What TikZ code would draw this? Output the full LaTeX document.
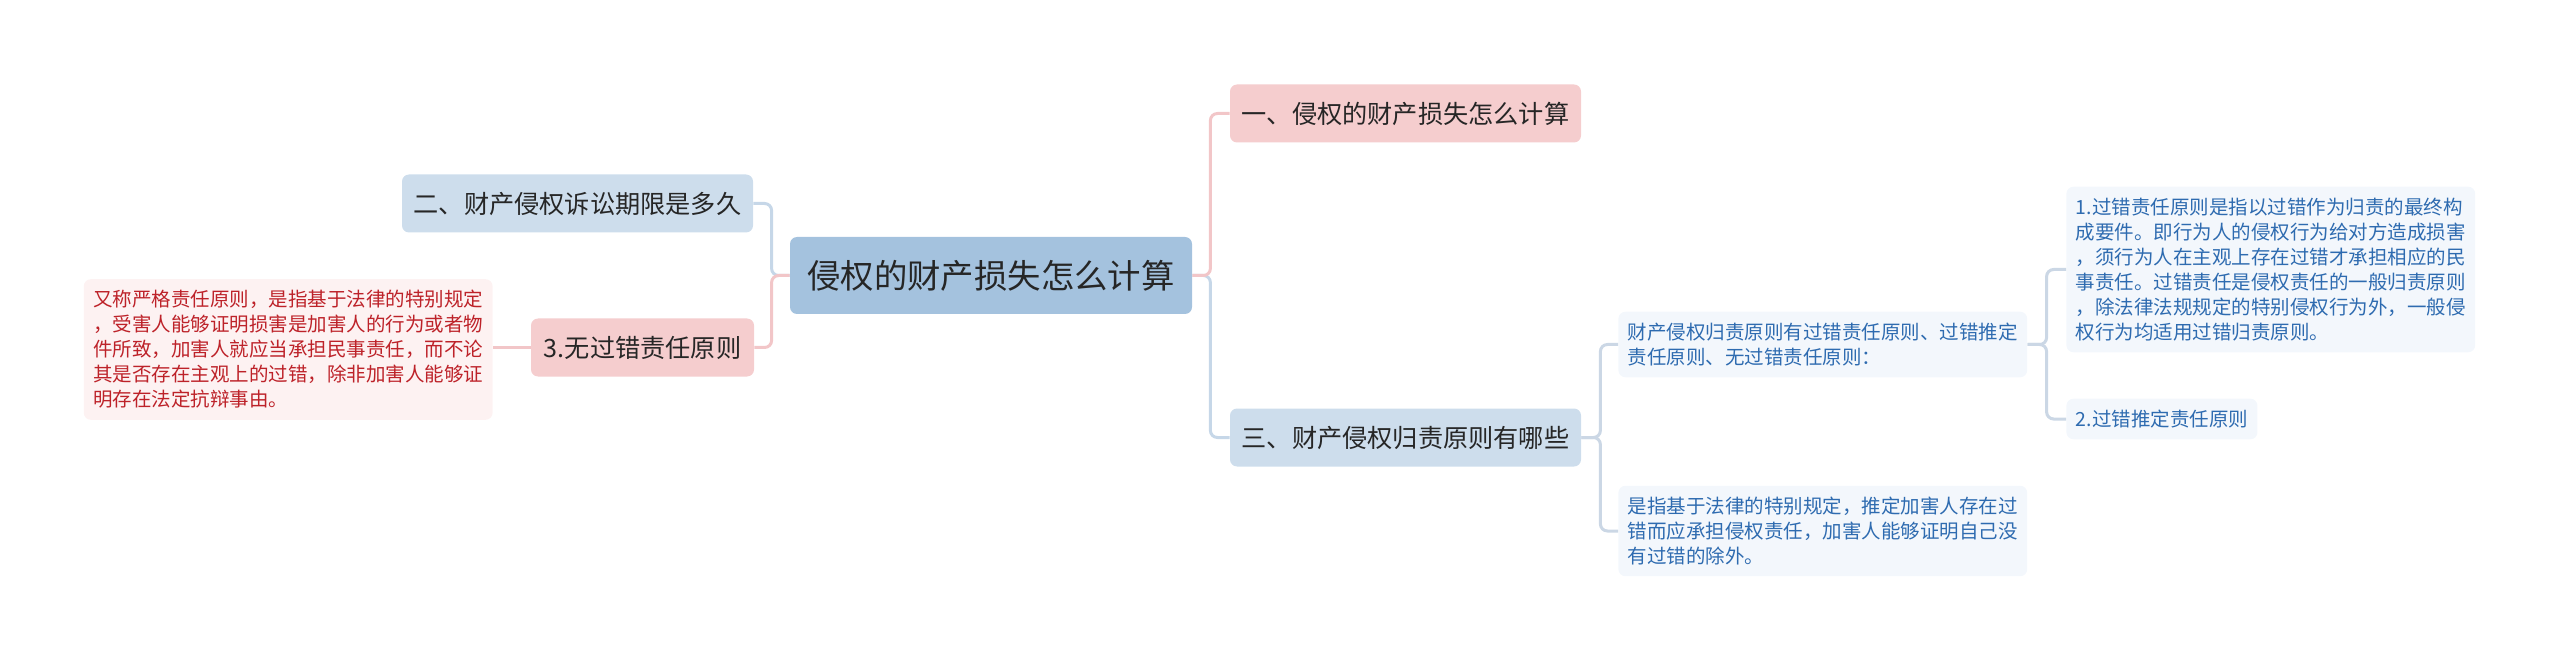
\documentclass[tikz,border=0pt]{standalone}
\usepackage{fontspec}
\newfontfamily\cjk{Noto Sans CJK SC}
\usepackage{xcolor}
\usepackage{tikz}
\usetikzlibrary{positioning,calc}

\definecolor{rootfill}{HTML}{A4C2DE}
\definecolor{pinkfill}{HTML}{F5CDCE}
\definecolor{bluefill}{HTML}{CDDDEC}
\definecolor{leafpink}{HTML}{FDF2F2}
\definecolor{leafblue}{HTML}{F3F7FC}
\definecolor{redtext}{HTML}{BD2229}
\definecolor{bluetext}{HTML}{2E6BB0}
\definecolor{pinkline}{HTML}{F2C6C8}
\definecolor{blueline}{HTML}{C6D7E8}
\definecolor{greyline}{HTML}{CBD7E5}

\begin{document}
\begin{tikzpicture}[x=0.5pt, y=-0.5pt,
  rootbox/.style={fill=rootfill, rounded corners=3.5pt, text=black!85,
    minimum width=201pt, minimum height=38.5pt, inner sep=0pt,
    font=\cjk\fontsize{16.7}{20}\selectfont},
  topicbox/.style={rounded corners=3.5pt, text=black!85,
    minimum width=175.5pt, minimum height=29pt, inner sep=0pt,
    font=\cjk\fontsize{12.6}{15}\selectfont},
  leafbox/.style={rounded corners=3.5pt, align=left, inner xsep=4.7pt, inner ysep=5.6pt,
    font=\cjk\fontsize{9.75}{12.5}\selectfont},
  link/.style={line width=1.5pt, rounded corners=3.5pt}]
  \useasboundingbox (0,0) rectangle (2560,663);

  % central topic and main branches
  \node[rootbox] (root) at (991,275.5) {侵权的财产损失怎么计算};
  \node[topicbox, fill=pinkfill] (one) at (1405.5,113.5) {一、侵权的财产损失怎么计算};
  \node[topicbox, fill=bluefill] (two) at (577.5,203.5) {二、财产侵权诉讼期限是多久};
  \node[topicbox, fill=bluefill] (three) at (1405.5,437.5) {三、财产侵权归责原则有哪些};
  \node[topicbox, fill=pinkfill, minimum width=111.5pt] (nofault) at (642.5,347.5) {3.无过错责任原则};

  % detail boxes
  \node[leafbox, fill=leafpink, text=redtext, anchor=east] (strict) at (493,349.5)
    {又称严格责任原则，是指基于法律的特别规定\\，受害人能够证明损害是加害人的行为或者物\\件所致，加害人就应当承担民事责任，而不论\\其是否存在主观上的过错，除非加害人能够证\\明存在法定抗辩事由。};
  \node[leafbox, fill=leafblue, text=bluetext, anchor=west] (kinds) at (1618,344.5)
    {财产侵权归责原则有过错责任原则、过错推定\\责任原则、无过错责任原则：};
  \node[leafbox, fill=leafblue, text=bluetext, anchor=west] (presume) at (1618,531)
    {是指基于法律的特别规定，推定加害人存在过\\错而应承担侵权责任，加害人能够证明自己没\\有过错的除外。};
  \node[leafbox, fill=leafblue, text=bluetext, anchor=west] (fault) at (2066,269.5)
    {1.过错责任原则是指以过错作为归责的最终构\\成要件。即行为人的侵权行为给对方造成损害\\，须行为人在主观上存在过错才承担相应的民\\事责任。过错责任是侵权责任的一般归责原则\\，除法律法规规定的特别侵权行为外，一般侵\\权行为均适用过错归责原则。};
  \node[leafbox, fill=leafblue, text=bluetext, anchor=west] (faultpre) at (2066,419)
    {2.过错推定责任原则};

  % connectors
  \draw[link, blueline] (root.west) -- ++(-18,0) |- (two.east);
  \draw[link, pinkline] (root.west) -- ++(-18,0) |- (nofault.east);
  \draw[link, blueline] (root.east) -- ++(18,0) |- (three.west);
  \draw[link, pinkline] (root.east) -- ++(18,0) |- (one.west);
  \draw[link, pinkline] (nofault.west) -- (nofault.west -| strict.east);
  \draw[link, greyline] (three.east) -- ++(19,0) |- (kinds.west);
  \draw[link, greyline] (three.east) -- ++(19,0) |- (presume.west);
  \draw[link, greyline] (kinds.east) -- ++(19,0) |- (fault.west);
  \draw[link, greyline] (kinds.east) -- ++(19,0) |- (faultpre.west);
\end{tikzpicture}
\end{document}
